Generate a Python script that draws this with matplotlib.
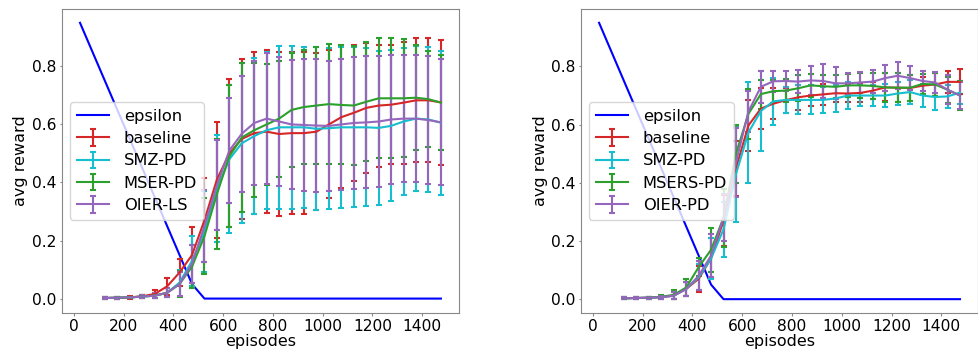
import matplotlib
matplotlib.use("Agg")
import matplotlib.pyplot as plt

# epsilon schedule (shared by both runs)
eps_x = [25, 75, 125, 175, 225, 275, 325, 375, 425, 475, 525, 575, 625, 675, 725,
         775, 825, 875, 925, 975, 1025, 1075, 1125, 1175, 1225, 1275, 1325, 1375,
         1425, 1475]
eps_y = [0.95, 0.85, 0.75, 0.65, 0.55, 0.45, 0.35, 0.25, 0.15, 0.05, 0.0, 0.0, 0.0,
         0.0, 0.0, 0.0, 0.0, 0.0, 0.0, 0.0, 0.0, 0.0, 0.0, 0.0, 0.0, 0.0, 0.0, 0.0,
         0.0, 0.0]

episodes = [125, 175, 225, 275, 325, 375, 425, 475, 525, 575, 625, 675, 725, 775,
            825, 875, 925, 975, 1025, 1075, 1125, 1175, 1225, 1275, 1325, 1375,
            1425, 1475]

# ---- left run ----
l_base = [0.002, 0.003, 0.004, 0.008, 0.016, 0.042, 0.09, 0.15, 0.27, 0.41, 0.50,
          0.55, 0.57, 0.575, 0.567, 0.57, 0.57, 0.575, 0.60, 0.625, 0.64, 0.657,
          0.665, 0.668, 0.675, 0.683, 0.683, 0.676]
l_base_err = [0.004, 0.003, 0.004, 0.005, 0.013, 0.029, 0.048, 0.095, 0.145, 0.2,
              0.255, 0.275, 0.28, 0.28, 0.283, 0.28, 0.28, 0.27, 0.255, 0.245,
              0.235, 0.225, 0.21, 0.205, 0.21, 0.213, 0.214, 0.215]
l_smz = [0.002, 0.003, 0.004, 0.007, 0.01, 0.02, 0.055, 0.13, 0.23, 0.38, 0.48,
         0.535, 0.56, 0.58, 0.59, 0.59, 0.59, 0.585, 0.587, 0.59, 0.59, 0.59, 0.588,
         0.595, 0.61, 0.62, 0.617, 0.606]
l_smz_err = [0.003, 0.003, 0.003, 0.004, 0.008, 0.015, 0.045, 0.085, 0.14, 0.185,
             0.255, 0.275, 0.27, 0.27, 0.28, 0.28, 0.278, 0.28, 0.277, 0.277, 0.275,
             0.272, 0.265, 0.26, 0.253, 0.25, 0.25, 0.248]
l_mser = [0.002, 0.003, 0.004, 0.007, 0.01, 0.02, 0.05, 0.11, 0.215, 0.36, 0.49,
          0.555, 0.58, 0.60, 0.62, 0.65, 0.66, 0.665, 0.67, 0.667, 0.665, 0.678,
          0.69, 0.69, 0.69, 0.692, 0.687, 0.675]
l_mser_err = [0.003, 0.003, 0.003, 0.004, 0.008, 0.015, 0.045, 0.075, 0.13, 0.19,
              0.245, 0.255, 0.23, 0.208, 0.2, 0.195, 0.198, 0.203, 0.207, 0.205,
              0.205, 0.205, 0.207, 0.207, 0.203, 0.18, 0.165, 0.163]
l_oier = [0.002, 0.003, 0.004, 0.007, 0.01, 0.02, 0.05, 0.12, 0.25, 0.39, 0.51,
          0.568, 0.605, 0.62, 0.61, 0.60, 0.598, 0.596, 0.595, 0.60, 0.605, 0.607,
          0.61, 0.617, 0.62, 0.62, 0.615, 0.607]
l_oier_err = [0.003, 0.003, 0.003, 0.004, 0.008, 0.015, 0.04, 0.065, 0.125, 0.155,
              0.18, 0.2, 0.215, 0.225, 0.222, 0.222, 0.226, 0.228, 0.225, 0.226,
              0.226, 0.227, 0.225, 0.222, 0.22, 0.22, 0.22, 0.217]

# ---- right run ----
r_base = [0.003, 0.004, 0.005, 0.007, 0.012, 0.035, 0.07, 0.14, 0.27, 0.45, 0.597,
          0.655, 0.672, 0.684, 0.694, 0.70, 0.704, 0.708, 0.707, 0.709, 0.717,
          0.728, 0.727, 0.726, 0.734, 0.738, 0.747, 0.747]
r_base_err = [0.003, 0.003, 0.004, 0.005, 0.012, 0.025, 0.045, 0.07, 0.087, 0.095,
              0.088, 0.07, 0.053, 0.043, 0.043, 0.035, 0.035, 0.03, 0.03, 0.03,
              0.028, 0.048, 0.05, 0.045, 0.03, 0.04, 0.038, 0.043]
r_smz = [0.003, 0.004, 0.005, 0.007, 0.012, 0.035, 0.075, 0.14, 0.24, 0.43, 0.573,
         0.647, 0.68, 0.685, 0.685, 0.685, 0.685, 0.69, 0.70, 0.70, 0.70, 0.70,
         0.707, 0.712, 0.70, 0.695, 0.697, 0.71]
r_smz_err = [0.003, 0.003, 0.004, 0.005, 0.012, 0.025, 0.045, 0.07, 0.095, 0.165,
             0.175, 0.137, 0.08, 0.045, 0.05, 0.05, 0.045, 0.045, 0.045, 0.035,
             0.035, 0.04, 0.04, 0.04, 0.04, 0.045, 0.04, 0.04]
r_mser = [0.003, 0.004, 0.005, 0.008, 0.015, 0.04, 0.11, 0.17, 0.28, 0.50, 0.637,
          0.705, 0.715, 0.717, 0.725, 0.735, 0.732, 0.73, 0.735, 0.735, 0.733,
          0.728, 0.727, 0.727, 0.74, 0.738, 0.72, 0.70]
r_mser_err = [0.003, 0.003, 0.004, 0.005, 0.015, 0.03, 0.03, 0.075, 0.1, 0.1, 0.085,
              0.05, 0.04, 0.04, 0.045, 0.04, 0.04, 0.04, 0.04, 0.042, 0.045, 0.05,
              0.05, 0.045, 0.035, 0.04, 0.045, 0.05]
r_oier = [0.003, 0.004, 0.005, 0.007, 0.012, 0.035, 0.08, 0.15, 0.28, 0.47, 0.645,
          0.73, 0.749, 0.75, 0.748, 0.752, 0.75, 0.742, 0.742, 0.745, 0.748, 0.76,
          0.768, 0.76, 0.75, 0.745, 0.72, 0.70]
r_oier_err = [0.003, 0.003, 0.004, 0.005, 0.012, 0.025, 0.05, 0.075, 0.08, 0.12,
              0.07, 0.055, 0.036, 0.035, 0.04, 0.05, 0.06, 0.055, 0.035, 0.035,
              0.04, 0.045, 0.047, 0.042, 0.035, 0.035, 0.05, 0.045]

colors = ["tab:red", "tab:cyan", "tab:green", "tab:purple"]

panels = [
    (["baseline", "SMZ-PD", "MSER-PD", "OIER-LS"],
     [l_base, l_smz, l_mser, l_oier],
     [l_base_err, l_smz_err, l_mser_err, l_oier_err]),
    (["baseline", "SMZ-PD", "MSERS-PD", "OIER-PD"],
     [r_base, r_smz, r_mser, r_oier],
     [r_base_err, r_smz_err, r_mser_err, r_oier_err]),
]

fig = plt.figure(figsize=(9.79, 3.49), dpi=100)
ax_rects = [[0.0633, 0.1032, 0.4055, 0.871], [0.5935, 0.1032, 0.4055, 0.871]]

for rect, (names, means, errs) in zip(ax_rects, panels):
    ax = fig.add_axes(rect)
    ax.plot(eps_x, eps_y, color="b", lw=1.5, label="epsilon")
    for name, m, e, c in zip(names, means, errs, colors):
        ax.errorbar(episodes, m, yerr=e, color=c, lw=1.5, elinewidth=1.5,
                    capsize=2.5, capthick=1.5, label=name)
    ax.set_xticks([0, 200, 400, 600, 800, 1000, 1200, 1400])
    ax.set_yticks([0.0, 0.2, 0.4, 0.6, 0.8])
    ax.tick_params(labelsize=11.2, length=1.8, pad=2.2, color="#888888")
    ax.set_xlabel("episodes", fontsize=11.5, labelpad=0)
    ax.set_ylabel("avg reward", fontsize=11.5, labelpad=2.5)
    for s in ax.spines.values():
        s.set_color("#888888")
    ax.legend(loc="center left", fontsize=11.7, handlelength=2.0,
              borderaxespad=0.5, labelspacing=0.45, handletextpad=0.9)

fig.savefig("out.png", dpi=100)
